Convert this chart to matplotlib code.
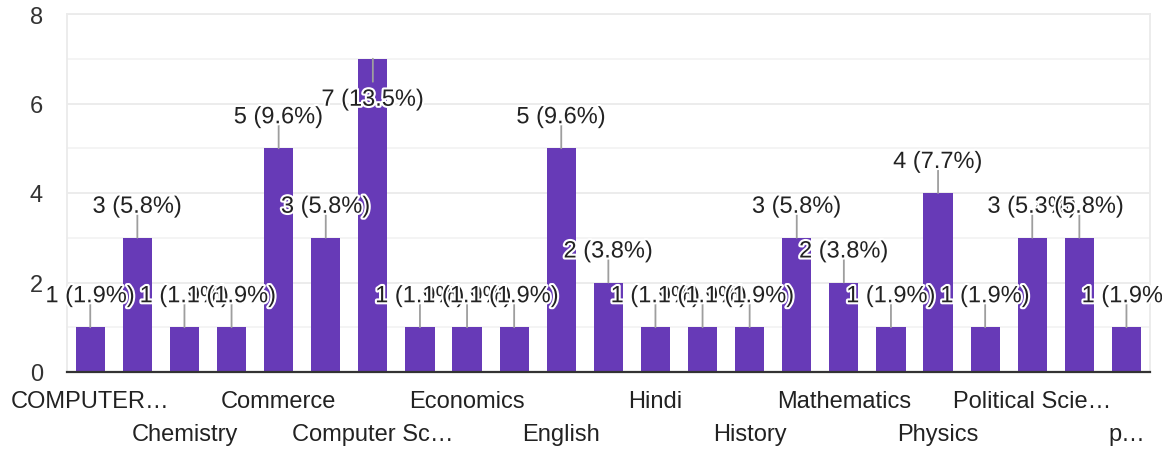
import matplotlib.pyplot as plt
import matplotlib.patheffects as pe
import numpy as np

plt.rcParams['font.family'] = ['Liberation Sans', 'DejaVu Sans']

# subjects (alphabetical as the form lists them); only every other one gets a label
categories = ["COMPUTER SCIENCE", "Chem", "Chemistry", "Civics", "Commerce",
              "Computer", "Computer Science", "Computer science", "Economics",
              "Education", "English", "Geography", "Hindi", "Hindi literature",
              "History", "Law", "Mathematics", "Maths", "Physics", "Physiology",
              "Political Science", "Psychology", "political science"]
tick_labels = ["COMPUTER\u2026", "Chem", "Chemistry", "Civics", "Commerce",
               "Computer", "Computer Sc\u2026", "Computer s\u2026", "Economics",
               "Education", "English", "Geography", "Hindi", "Hindi lit\u2026",
               "History", "Law", "Mathematics", "Maths", "Physics", "Physiology",
               "Political Scie\u2026", "Psychology", "p\u2026"]
counts = [1, 3, 1, 1, 5, 3, 7, 1, 1, 1, 5, 2, 1, 1, 1, 3, 2, 1, 4, 1, 3, 3, 1]

total = sum(counts)
purple = '#673ab7'
txt = '#222222'
fs = 17

fig = plt.figure(figsize=(11.62, 4.52), dpi=100)
ax = fig.add_axes([66.7 / 1162, 1 - 373 / 452, (1150 - 66.7) / 1162, (373 - 15) / 452])

x = np.arange(len(counts))
ax.bar(x, counts, width=0.62, color=purple, zorder=2)

ax.set_xlim(-0.5, len(counts) - 0.5)
ax.set_ylim(0, 8)
ax.set_yticks([0, 2, 4, 6, 8])
ax.set_yticks([1, 3, 5, 7], minor=True)
ax.grid(axis='y', which='major', color='#ebebeb', linewidth=1.3, zorder=0)
ax.grid(axis='y', which='minor', color='#f3f3f3', linewidth=1.3, zorder=0)
ax.set_xticks([])
ax.tick_params(axis='y', which='both', length=0, pad=17, labelsize=fs, labelcolor='#333333')
for s in ['left', 'right', 'top']:
    ax.spines[s].set_color('#ebebeb')
    ax.spines[s].set_linewidth(1.3)
ax.spines['bottom'].set_color('#333333')
ax.spines['bottom'].set_linewidth(1.6)
ax.spines['bottom'].set_zorder(3)

halo = [pe.withStroke(linewidth=3, foreground='white')]
vmax = ax.get_ylim()[1]
for i, v in enumerate(counts):
    label = f"{v} ({v / total * 100:.1f}%)"
    below = v >= vmax - 1
    ax.annotate('', xy=(i, v), xytext=(0, -23 if below else 23), textcoords='offset pixels',
                arrowprops=dict(arrowstyle='-', color='#9e9e9e', lw=1.3,
                                shrinkA=0, shrinkB=0), zorder=4)
    ax.annotate(label, xy=(i, v), xytext=(0, -41 if below else 31), textcoords='offset pixels',
                ha='center', va='center', fontsize=fs, color=txt,
                path_effects=halo, zorder=5 + i, annotation_clip=False)

for i in range(0, len(tick_labels), 2):
    off = -29 if (i // 2) % 2 == 0 else -62
    ax.annotate(tick_labels[i], xy=(i, 0), xycoords=('data', 'axes fraction'),
                xytext=(0, off), textcoords='offset pixels', ha='center', va='center',
                fontsize=fs, color=txt, annotation_clip=False)

fig.savefig('out.png', dpi=100)
